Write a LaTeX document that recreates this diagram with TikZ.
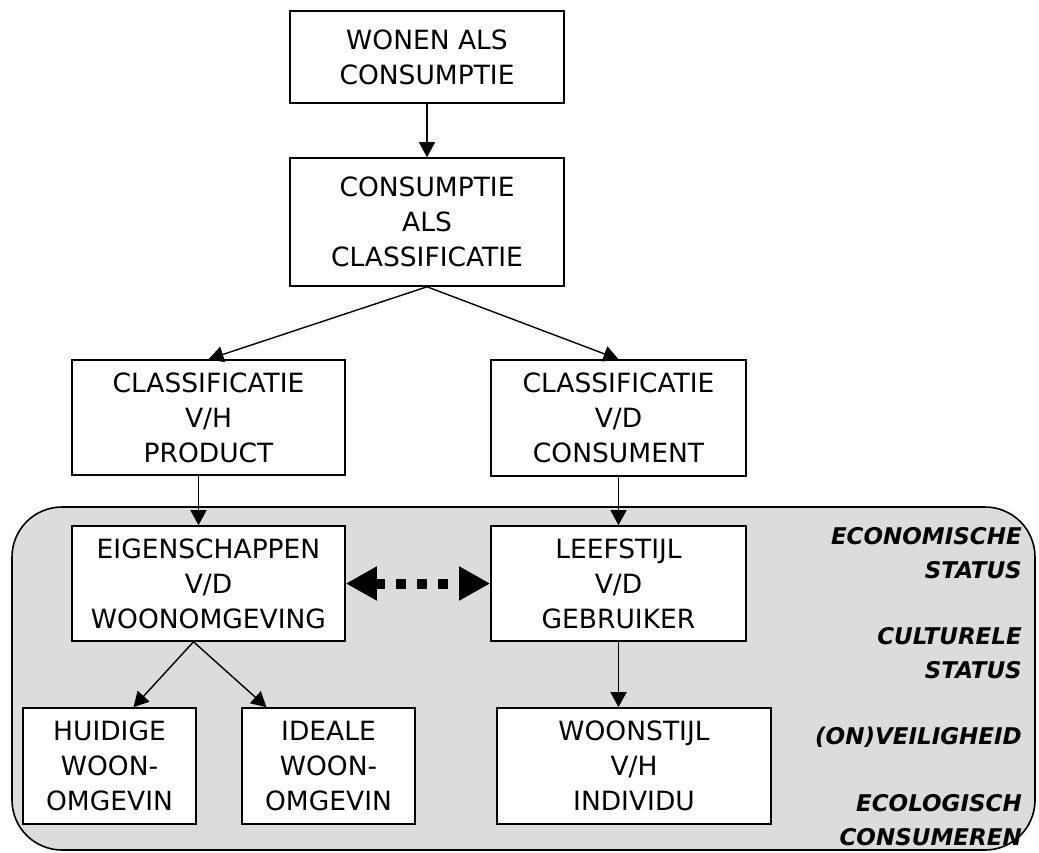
\documentclass[tikz,border=0pt]{standalone}
\usepackage{fontspec}
\setmainfont{DejaVu Sans}
\usetikzlibrary{arrows.meta}
\definecolor{panelgray}{RGB}{220,220,220}
\tikzset{
  blok/.style={draw, line width=1.6pt, fill=white, align=center, inner sep=0pt, font=\fontsize{26.5}{35}\selectfont},
  pijl/.style={-{Triangle[length=15pt,width=16pt]}, line width=1.4pt},
  stippel/.style={line width=10pt, dash pattern=on 10pt off 11pt, {Triangle[length=31pt,width=32pt]}-{Triangle[length=31pt,width=32pt]}},
  kenmerk/.style={align=right, anchor=east, inner sep=0pt, font=\fontsize{23}{34}\selectfont\bfseries\itshape},
}

\begin{document}
\begin{tikzpicture}[x=1pt, y=-1pt]
		\useasboundingbox (0,0) rectangle (1039,852);
		% grijze achtergrond
		\draw[fill=panelgray, line width=1.6pt, rounded corners=50pt] (12,507) rectangle (1035,850);

		\node[blok, minimum width=274pt, minimum height=92pt] (wonen) at (427,57) {WONEN ALS\\CONSUMPTIE};
		\node[blok, minimum width=274pt, minimum height=128pt] (consumptie) at (427,222) {CONSUMPTIE\\ALS\\CLASSIFICATIE};
		\node[blok, minimum width=273pt, minimum height=115pt] (product) at (208.5,417.5) {CLASSIFICATIE\\V/H\\PRODUCT};
		\node[blok, minimum width=255pt, minimum height=116pt] (consument) at (618.5,418) {CLASSIFICATIE\\V/D\\CONSUMENT};
		\node[blok, minimum width=273pt, minimum height=115pt] (eigenschappen) at (208.5,583.5) {EIGENSCHAPPEN\\V/D\\WOONOMGEVING};
		\node[blok, minimum width=255pt, minimum height=115pt] (leefstijl) at (618.5,583.5) {LEEFSTIJL\\V/D\\GEBRUIKER};
		\node[blok, minimum width=173pt, minimum height=116pt] (huidig) at (109.5,766) {HUIDIGE\\WOON-\\OMGEVIN};
		\node[blok, minimum width=173pt, minimum height=116pt] (ideaal) at (328.5,766) {IDEALE\\WOON-\\OMGEVIN};
		\node[blok, minimum width=274pt, minimum height=116pt] (woonstijl) at (634,766) {WOONSTIJL\\V/H\\INDIVIDU};

		\node[kenmerk] (economisch) at (1022,553) {ECONOMISCHE\\STATUS};
		\node[kenmerk] (cultureel) at (1022,653.5) {CULTURELE\\STATUS};
		\node[kenmerk] (veilig) at (1022,737) {(ON)VEILIGHEID};
		\node[kenmerk] (ecologisch) at (1022,820) {ECOLOGISCH\\CONSUMEREN};

		\draw[pijl] (wonen) -- (consumptie);
		\draw[pijl] (consumptie.south) -- (product.north);
		\draw[pijl] (consumptie.south) -- (consument.north);
		\draw[pijl] ([xshift=-10pt]product.south) -- ([xshift=-10pt]eigenschappen.north);
		\draw[pijl] (consument) -- (leefstijl);
		\draw[pijl] ([xshift=-15pt]eigenschappen.south) -- ([xshift=24pt]huidig.north);
		\draw[pijl] ([xshift=-15pt]eigenschappen.south) -- ([xshift=-62pt]ideaal.north);
		\draw[pijl] (leefstijl.south) -- (leefstijl.south |- woonstijl.north);
		\draw[stippel] (eigenschappen) -- (leefstijl);
	\end{tikzpicture}
\end{document}
